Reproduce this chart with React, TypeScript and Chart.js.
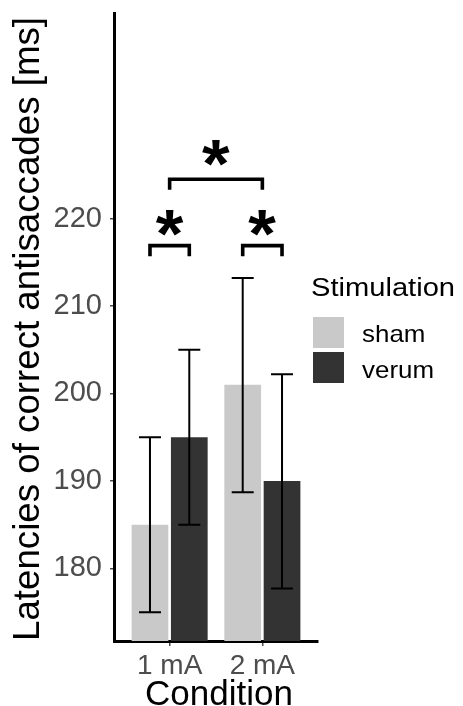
import React, { useEffect, useRef } from 'react';
import { Chart, registerables } from 'chart.js';
Chart.register(...registerables);

const conditions = ['1 mA', '2 mA'];
const groups = ['sham', 'verum'];
const shamMeans = [185, 201];
const verumMeans = [195, 190];
const shamLower = [175, 188.7];
const shamUpper = [195, 213.2];
const verumLower = [185, 177.7];
const verumUpper = [205, 202.2];
const yTicks = [180, 190, 200, 210, 220];
const yMin = 171.7;
const yMax = 243.5;
const yTitle = 'Latencies of correct antisaccades [ms]';
const xTitle = 'Condition';
const legendTitle = 'Stimulation';
// significance brackets: endpoints are [datasetIndex | null (category centre), categoryIndex]
const bracketFrom = [[0, 0], [0, 1], [null, 0]];
const bracketTo = [[1, 0], [1, 1], [null, 1]];
const bracketLine = [216.9, 216.9, 224.5];
const bracketTip = [215.7, 215.7, 223.3];
const bracketLabelY = [219.5, 219.5, 227.5];
const bracketLabels = ['*', '*', '*'];

const colors = ['#c9c9c9', '#333333'];
const FONT = '"Liberation Sans", Arial, Helvetica, sans-serif';

const overlay = {
  id: 'overlay',
  afterDatasetsDraw(chart: any) {
    const ctx = chart.ctx;
    const ys = chart.scales.y;
    const xs = chart.scales.x;
    const lows = [shamLower, verumLower];
    const highs = [shamUpper, verumUpper];
    ctx.save();
    ctx.strokeStyle = '#000';
    ctx.lineWidth = 2;
    for (let d = 0; d < 2; d++) {
      const meta = chart.getDatasetMeta(d);
      meta.data.forEach((el: any, i: number) => {
        const x = el.x;
        const y1 = ys.getPixelForValue(lows[d][i]);
        const y2 = ys.getPixelForValue(highs[d][i]);
        ctx.beginPath();
        ctx.moveTo(x, y1); ctx.lineTo(x, y2);
        ctx.moveTo(x - 11, y1); ctx.lineTo(x + 11, y1);
        ctx.moveTo(x - 11, y2); ctx.lineTo(x + 11, y2);
        ctx.stroke();
      });
    }
    const px = (p: any) => p[0] === null ? xs.getPixelForValue(p[1] + 1) : chart.getDatasetMeta(p[0]).data[p[1]].x;
    ctx.lineWidth = 3.6;
    ctx.lineCap = 'butt';
    ctx.lineJoin = 'miter';
    for (let b = 0; b < bracketFrom.length; b++) {
      const xa = px(bracketFrom[b]);
      const xb = px(bracketTo[b]);
      const yl = ys.getPixelForValue(bracketLine[b]);
      const yt = ys.getPixelForValue(bracketTip[b]);
      ctx.beginPath();
      ctx.moveTo(xa, yt); ctx.lineTo(xa, yl); ctx.lineTo(xb, yl); ctx.lineTo(xb, yt);
      ctx.stroke();
      // star: sized so its ink is ~26px tall and ~28px wide, centred on the label value
      ctx.font = `bold 100px ${FONT}`;
      const m0 = ctx.measureText(bracketLabels[b]);
      const h0 = m0.actualBoundingBoxAscent + m0.actualBoundingBoxDescent;
      const fs = (100 * 26) / h0;
      ctx.font = `bold ${fs}px ${FONT}`;
      const m = ctx.measureText(bracketLabels[b]);
      const w = m.actualBoundingBoxLeft + m.actualBoundingBoxRight;
      const sx = 28 / w;
      const cy = ys.getPixelForValue(bracketLabelY[b]);
      const cx = (xa + xb) / 2;
      ctx.save();
      ctx.fillStyle = '#000';
      ctx.textAlign = 'left';
      ctx.textBaseline = 'alphabetic';
      const base = cy + (m.actualBoundingBoxAscent - m.actualBoundingBoxDescent) / 2;
      ctx.translate(cx, base);
      ctx.scale(sx, 1);
      const inkCenterX = (m.actualBoundingBoxRight - m.actualBoundingBoxLeft) / 2;
      ctx.fillText(bracketLabels[b], -inkCenterX, 0);
      ctx.restore();
    }
    ctx.restore();
  },
  afterDraw(chart: any) {
    const ctx = chart.ctx;
    const ca = chart.chartArea;
    ctx.save();
    // y title
    ctx.fillStyle = '#000';
    ctx.font = `36.7px ${FONT}`;
    ctx.textAlign = 'center';
    ctx.textBaseline = 'middle';
    ctx.translate(29, (ca.top + ca.bottom) / 2 + 2);
    ctx.rotate(-Math.PI / 2);
    ctx.fillText(yTitle, 0, 0);
    ctx.restore();
    ctx.save();
    ctx.fillStyle = '#000';
    ctx.font = `35px ${FONT}`;
    ctx.textAlign = 'center';
    ctx.textBaseline = 'alphabetic';
    ctx.fillText(xTitle, (ca.left + ca.right) / 2 + 3, 705);
    // legend
    ctx.textAlign = 'left';
    ctx.save();
    ctx.translate(311, 296);
    ctx.scale(1.12, 1);
    ctx.font = `26px ${FONT}`;
    ctx.fillStyle = '#000';
    ctx.fillText(legendTitle, 0, 0);
    ctx.restore();
    const labelBase = [341.5, 378];
    for (let i = 0; i < groups.length; i++) {
      const top = 317 + i * 35;
      ctx.fillStyle = colors[i];
      ctx.fillRect(313, top, 31, 31);
      ctx.save();
      ctx.translate(362, labelBase[i]);
      ctx.scale(1.08, 1);
      ctx.font = `24px ${FONT}`;
      ctx.fillStyle = '#000';
      ctx.fillText(groups[i], 0, 0);
      ctx.restore();
    }
    ctx.restore();
  },
};

const noPad = (s: any) => {
  s.paddingTop = 0;
  s.paddingBottom = 0;
  s.paddingLeft = 0;
  s.paddingRight = 0;
};

export default function App() {
  const ref = useRef<HTMLCanvasElement>(null);
  useEffect(() => {
    const canvas = ref.current!;
    const means = [shamMeans, verumMeans];
    const chart = new Chart(canvas, {
      type: 'bar',
      data: {
        datasets: groups.map((g, d) => ({
          label: g,
          data: means[d].map((v, i) => ({ x: i + 1, y: v })),
          backgroundColor: colors[d],
          borderWidth: 0,
          categoryPercentage: 0.848,
          barPercentage: 0.934,
        })),
      },
      options: {
        animation: false,
        responsive: false,
        devicePixelRatio: 1,
        layout: { padding: { top: 13, right: 145, left: 0, bottom: 0 } },
        plugins: { legend: { display: false }, tooltip: { enabled: false }, title: { display: false } },
        scales: {
          x: {
            type: 'linear',
            min: 0.4,
            max: 2.6,
            offset: false,
            afterBuildTicks: (s: any) => { s.ticks = conditions.map((_, i) => ({ value: i + 1 })); },
            afterFit: (s: any) => { s.height = 65; noPad(s); },
            ticks: {
              callback: (_v: any, i: number) => conditions[i],
              font: { family: FONT, size: 28 },
              color: '#4d4d4d',
              padding: 3,
              maxRotation: 0,
              autoSkip: false,
            },
            grid: { offset: false, drawOnChartArea: false, drawTicks: true, tickLength: 5, color: '#4d4d4d', lineWidth: 1.5 },
            border: { display: true, color: '#000', width: 3 },
          },
          y: {
            type: 'linear',
            min: yMin,
            max: yMax,
            afterBuildTicks: (s: any) => { s.ticks = yTicks.map((v) => ({ value: v })); },
            afterFit: (s: any) => { s.width = 114; noPad(s); },
            ticks: {
              font: { family: FONT, size: 29 },
              color: '#4d4d4d',
              padding: 8,
              autoSkip: false,
            },
            grid: { drawOnChartArea: false, drawTicks: true, tickLength: 4, color: '#4d4d4d', lineWidth: 1.5 },
            border: { display: true, color: '#000', width: 3 },
          },
        },
      },
      plugins: [overlay],
    } as any);
    return () => chart.destroy();
  }, []);
  return (
    <div style={{ position: 'fixed', left: 0, top: 0, width: 463, height: 706, background: '#fff' }}>
      <canvas ref={ref} width={463} height={706} style={{ display: 'block', width: 463, height: 706 }} />
    </div>
  );
}
